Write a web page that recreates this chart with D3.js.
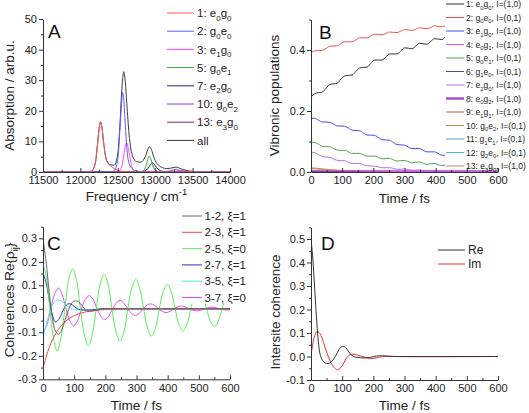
<!DOCTYPE html>
<html><head><meta charset="utf-8">
<script src="https://cdn.jsdelivr.net/npm/d3@7"></script>
<style>body{margin:0;background:#fff}svg{display:block}text{font-family:"Liberation Sans",Arial,sans-serif}</style>
</head><body><svg id="c" width="529" height="413"></svg>
<script>
// ---------- Panel A: absorption spectra ----------
const specFreq = [11500,12000,12100,12150,12200,12230,12250,12270,12290,12310,12350,12400,12450,12500,12530,12550,12565,12580,12600,12620,12650,12700,12750,12800,12850,12880,12900,12920,12940,12960,12980,13000,13050,13100,13150,13200,13250,13280,13310,13350,13400,13500,13700,14000];
const specE0G0 = [0,0,0.05,0.3,3.0,9.3,14.2,16.3,14.2,9.6,3.6,2.0,1.2,0.5,0.3,0.2,0.15,0.1,0.08,0.06,0.05,0.03,0.02,0,0,0,0,0,0,0,0,0,0,0,0,0,0,0,0,0,0,0,0,0];
const specG0E0 = [0,0,0,0,0,0,0,0,0,0,0,0,0.4,4.2,14.5,22.5,26.0,23.8,15.5,8.0,2.8,0.9,0.3,0.1,0,0,0,0,0,0,0,0,0,0,0,0,0,0,0,0,0,0,0,0];
const specE1G0 = [0,0,0,0,0,0,0,0,0,0,0,0,0,0.1,0.5,1.6,3.2,5.5,8.6,9.6,6.5,1.0,0.2,0.05,0,0,0,0,0,0,0,0,0,0,0,0,0,0,0,0,0,0,0,0];
const specG0E1 = [0,0,0,0,0,0,0,0,0,0,0,0,0,0,0,0,0,0,0,0,0,0,0,0.05,0.6,2.2,4.0,5.2,4.4,2.7,1.3,0.6,0.1,0,0,0,0,0,0,0,0,0,0,0];
const specE2G0 = [0,0,0,0,0,0,0,0,0,0,0,0,0,0,0,0,0,0,0,0,0,0,0,0,0.2,0.6,1.1,1.8,2.5,3.0,2.8,2.1,0.7,0.2,0.05,0,0,0,0,0,0,0,0,0];
const specG0E2 = [0,0,0,0,0,0,0,0,0,0,0,0,0,0,0,0,0,0,0,0,0,0,0,0,0,0,0,0,0,0,0,0,0,0.05,0.15,0.4,0.75,0.8,0.6,0.3,0.12,0.02,0,0];
const specE3G0 = [0,0,0,0,0,0,0,0,0,0,0,0,0,0,0,0,0,0,0,0,0,0,0,0,0,0,0,0,0,0,0,0,0,0,0,0,0.1,0.2,0.3,0.35,0.25,0.05,0,0];
const specAll  = [0,0,0.05,0.3,3.0,9.3,14.2,16.4,14.3,9.7,3.9,2.4,2.2,6.0,16.0,25.5,30.5,32.8,29.5,22.5,12.5,5.0,3.4,3.2,4.2,5.8,7.3,8.2,7.9,6.6,5.0,3.8,2.1,1.4,1.1,1.2,1.5,1.6,1.4,1.0,0.6,0.2,0.05,0];
const specNames = ["1: e_0g_0","2: g_0e_0","3: e_1g_0","5: g_0e_1","7: e_2g_0","10: g_0e_2","13: e_3g_0","all"];
const specColors = ["#ff5a5a","#5a5aff","#ff46ff","#38a838","#26267a","#8a3cf0","#7a2a6a","#3a3a3a"];
const specTicksX = [11500,12000,12500,13000,13500,14000];
const specMinorX = [11750,12250,12750,13250,13750];
const specTicksY = [0,10,20,30,40,50];
const specMinorY = [5,15,25,35,45];

// ---------- Panel B: vibronic populations ----------
const popT = [0,12,24,36,48,60,72,84,96,108,120,132,144,156,168,180,192,204,216,228,240,252,264,276,288,300,312,324,336,348,360,372,384,396,408,420,432,480,540,600];
const pop1 = [0.245,0.257,0.260,0.262,0.274,0.287,0.289,0.291,0.304,0.315,0.317,0.318,0.330,0.341,0.343,0.344,0.356,0.367,0.367,0.367,0.377,0.387,0.387,0.387,0.397,0.407,0.406,0.404,0.413,0.422,0.421,0.419,0.428,0.437,0.436,0.434,0.443,0.455,0.468,0.480];
const pop2 = [0.390,0.397,0.398,0.399,0.405,0.412,0.413,0.414,0.421,0.427,0.427,0.427,0.433,0.440,0.440,0.440,0.446,0.452,0.451,0.450,0.454,0.459,0.458,0.457,0.462,0.467,0.466,0.464,0.468,0.473,0.471,0.470,0.474,0.479,0.477,0.476,0.480,0.485,0.490,0.494];
const pop3 = [0.176,0.176,0.170,0.164,0.164,0.163,0.157,0.151,0.151,0.150,0.144,0.137,0.136,0.135,0.128,0.121,0.121,0.120,0.113,0.106,0.105,0.104,0.097,0.090,0.089,0.088,0.082,0.077,0.077,0.077,0.071,0.066,0.066,0.066,0.061,0.055,0.055,0.048,0.040,0.033];
const pop5 = [0.098,0.097,0.091,0.084,0.083,0.083,0.077,0.072,0.071,0.071,0.066,0.061,0.061,0.061,0.056,0.052,0.052,0.052,0.048,0.043,0.044,0.045,0.040,0.036,0.037,0.038,0.034,0.030,0.032,0.033,0.029,0.025,0.027,0.028,0.024,0.021,0.022,0.018,0.014,0.011];
const pop7 = [0.065,0.063,0.057,0.051,0.049,0.048,0.043,0.038,0.037,0.037,0.032,0.028,0.028,0.028,0.024,0.020,0.020,0.019,0.017,0.014,0.014,0.014,0.012,0.009,0.009,0.010,0.008,0.006,0.006,0.007,0.005,0.004,0.004,0.005,0.003,0.002,0.003,0.002,0.002,0.001];
const popTS = [0,50,100,150,200,250,300,400,500,600];
const pop4  = [0.006,0.005,0.004,0.003,0.0025,0.002,0.0015,0.001,0.0008,0.0006];
const pop6  = [0.003,0.0025,0.002,0.0015,0.001,0.001,0.0008,0.0005,0.0004,0.0003];
const pop8  = [0.002,0.002,0.002,0.002,0.002,0.002,0.002,0.002,0.002,0.002];
const pop9  = [0.002,0.0015,0.001,0.0008,0.0005,0.0004,0.0003,0.0002,0.0001,0];
const pop10 = [0.012,0.007,0.004,0.002,0.001,0.0005,0.0002,0,0,0];
const pop11 = [0.001,0.0008,0.0006,0.0004,0.0003,0.0002,0.0001,0,0,0];
const pop12 = [0.0005,0.0004,0.0003,0.0002,0.0001,0,0,0,0,0];
const pop13 = [0.014,0.009,0.005,0.003,0.0015,0.001,0.0005,0.0002,0,0];
const popNames = ["1: e_0g_0, I=(1,0)","2: g_0e_0, I=(0,1)","3: e_1g_0, I=(1,0)","4: e_0g_1, I=(1,0)","5: g_0e_1, I=(0,1)","6: g_1e_0, I=(0,1)","7: e_2g_0, I=(1,0)","8: e_0g_2, I=(1,0)","9: e_1g_1, I=(1,0)","10: g_0e_2, I=(0,1)","11: g_1e_1, I=(0,1)","12: g_2e_0, I=(0,1)","13: e_3g_0, I=(1,0)"];
const popColors = ["#333333","#f05050","#4848f0","#f050f0","#48a848","#50508a","#b070f0","#a050c8","#a06060","#a8a040","#5a9ad0","#50c0c0","#c09060"];
const popTicksX = [0,100,200,300,400,500,600];
const popMinorX = [50,150,250,350,450,550];
const popTicksY = [0,0.2,0.4];
const popMinorY = [0.1,0.3,0.5];

// ---------- Panel C: coherences ----------
const c12T = [0,10,20,30,40,50,60,70,80,90,100,110,120,130,140,150,165,180,200,230,260,600];
const c12  = [0.30,0.20,0.07,-0.04,-0.095,-0.108,-0.09,-0.05,-0.01,0.02,0.033,0.033,0.022,0.006,-0.006,-0.01,-0.008,-0.003,0.001,0.001,0,0];
const c23T = [0,10,20,30,40,50,60,70,80,90,100,120,140,160,180,200,250,300,600];
const c23  = [-0.255,-0.205,-0.165,-0.133,-0.107,-0.086,-0.069,-0.056,-0.045,-0.036,-0.029,-0.019,-0.012,-0.008,-0.005,-0.003,-0.001,0,0];
const c25T = [0,11,22,34,45,57,70,82,95,108,120,133,146,158,171,183,196,209,221,234,247,260,272,285,298,310,323,335,348,361,373,386,399,411,424,436,449,462,474,487,500,512,525,537,550,562,575,587,600];
const c25  = [0.19,0.134,0,-0.127,-0.18,-0.127,0,0.12,0.17,0.12,0,-0.111,-0.157,-0.111,0,0.104,0.147,0.104,0,-0.097,-0.137,-0.097,0,0.088,0.125,0.088,0,-0.081,-0.115,-0.081,0,0.074,0.104,0.074,0,-0.066,-0.094,-0.066,0,0.06,0.085,0.06,0,-0.053,-0.075,-0.053,0,0.047,0.066];
const c27T = [0,10,20,30,40,50,60,70,80,90,100,110,120,140,160,180,200,250,600];
const c27  = [0.153,0.11,0.04,-0.025,-0.056,-0.046,-0.02,0.008,0.021,0.02,0.01,0.001,-0.004,-0.006,-0.004,-0.001,0.001,0,0];
const c35T = [0,10,20,30,40,50,60,70,80,90,100,120,140,170,200,600];
const c35  = [-0.12,-0.07,-0.02,0.015,0.033,0.038,0.033,0.022,0.01,0.002,-0.003,-0.005,-0.004,-0.002,0,0];
const c37T = [0,12,25,37,49,61,74,86,98,111,123,136,148,161,173,186,198,210,223,235,247,259,272,284,296,308,321,333,345,358,370,383,395,407,420,432,444,456,469,481,493,505,518,530,542,554,567,579,591,600];
const c37  = [-0.10,-0.071,0,0.062,0.088,0.062,0,-0.051,-0.072,-0.051,0,0.04,0.056,0.04,0,-0.032,-0.045,-0.032,0,0.025,0.036,0.025,0,-0.02,-0.028,-0.02,0,0.015,0.021,0.015,0,-0.011,-0.016,-0.011,0,0.0085,0.012,0.0085,0,-0.0064,-0.009,-0.0064,0,0.005,0.007,0.005,0,-0.0035,-0.005,-0.004];
const cohNames = ["1-2, ξ=1","2-3, ξ=1","2-5, ξ=0","2-7, ξ=1","3-5, ξ=1","3-7, ξ=0"];
const cohColors = ["#666666","#f04848","#5aee5a","#3434c4","#48eef4","#ee48ee"];
const cohTicksY = [-0.3,-0.2,-0.1,0,0.1,0.2,0.3];
const cohMinorY = [-0.25,-0.15,-0.05,0.05,0.15,0.25,0.35];

// ---------- Panel D: intersite coherence ----------
const dReT = [0,5,10,15,20,25,30,40,50,60,70,80,90,100,110,120,130,140,150,170,190,210,230,250,280,600];
const dRe  = [0.50,0.43,0.33,0.22,0.12,0.045,0.005,-0.022,-0.03,-0.028,-0.015,0.005,0.03,0.043,0.04,0.022,0.006,-0.002,-0.004,-0.006,-0.004,0.002,0.003,0.001,0,0];
const dImT = [0,10,20,30,40,50,60,70,80,85,90,100,110,120,130,140,160,180,200,220,240,260,600];
const dIm  = [0,0.08,0.107,0.095,0.06,0.02,-0.015,-0.04,-0.054,-0.057,-0.054,-0.04,-0.015,0.003,0.01,0.009,0.002,-0.006,-0.008,-0.003,0.001,0,0];
const intNames = ["Re","Im"];
const intColors = ["#333333","#e83434"];
const intTicksY = [-0.1,0,0.1,0.2,0.3,0.4,0.5];
const intMinorY = [-0.05,0.05,0.15,0.25,0.35,0.45,0.55];

// ---------- drawing ----------
const svg = d3.select("#c");
const TICK_FS = 11, TITLE_FS = 13.5;

function rich(textSel, str, fs) {
  const segs = [];
  for (let i = 0; i < str.length; i++) {
    let c = str[i], mode = "n";
    if ((c === "_" || c === "^") && i + 1 < str.length) { mode = c === "_" ? "sub" : "sup"; c = str[++i]; }
    if (segs.length && segs[segs.length-1].mode === mode) segs[segs.length-1].t += c;
    else segs.push({t: c, mode});
  }
  let cur = 0;
  segs.forEach(s => {
    const target = s.mode === "sub" ? fs*0.3 : s.mode === "sup" ? -fs*0.42 : 0;
    const ts = textSel.append("tspan").text(s.t).attr("dy", target - cur);
    if (s.mode !== "n") ts.attr("font-size", fs*0.7);
    cur = target;
  });
}

function panel(p) {
  const g = svg.append("g");
  const x = d3.scaleLinear().domain(p.xDomain).range(p.xRange);
  const y = d3.scaleLinear().domain(p.yDomain).range(p.yRange);
  const clipId = "clip" + p.letter;
  g.append("clipPath").attr("id", clipId).append("rect")
    .attr("x", p.xRange[0]).attr("y", p.yRange[1]-2)
    .attr("width", p.xRange[1]-p.xRange[0]+2).attr("height", p.yRange[0]-p.yRange[1]+2);
  const lines = g.append("g").attr("clip-path", `url(#${clipId})`);
  p.series.slice().reverse().forEach(s => {
    const pts = s.x.map((v, i) => [v, s.y[i]]);
    lines.append("path").datum(pts)
      .attr("fill", "none").attr("stroke", s.color).attr("stroke-width", s.width || 1)
      .attr("stroke-linejoin", "round")
      .attr("d", d3.line().x(d => x(d[0])).y(d => y(d[1])).curve(s.curve || d3.curveMonotoneX));
  });
  if (p.box) g.append("rect").attr("x", p.box[0]).attr("y", p.box[1]).attr("width", p.box[2]).attr("height", p.box[3]).attr("fill", "#fff");
  const fmt = p.fmt;
  g.append("g").attr("transform", `translate(0,${p.yRange[0]})`)
    .call(d3.axisBottom(x).tickValues(p.xTicks).tickFormat(fmt.x).tickSize(-4).tickSizeOuter(0).tickPadding(4.5));
  g.append("g").attr("transform", `translate(0,${p.yRange[0]})`)
    .call(d3.axisBottom(x).tickValues(p.xMinor).tickFormat("").tickSize(-2).tickSizeOuter(0))
    .select(".domain").remove();
  g.append("g").attr("transform", `translate(${p.xRange[0]},0)`)
    .call(d3.axisLeft(y).tickValues(p.yTicks).tickFormat(fmt.y).tickSize(4).tickSizeOuter(0).tickPadding(2));
  g.append("g").attr("transform", `translate(${p.xRange[0]},0)`)
    .call(d3.axisLeft(y).tickValues(p.yMinor).tickFormat("").tickSize(2).tickSizeOuter(0))
    .select(".domain").remove();
  g.selectAll(".domain, .tick line").attr("stroke", "#333");
  g.selectAll(".tick text").attr("font-size", TICK_FS).attr("fill", "#222")
    .attr("font-family", "'Liberation Sans', Arial, sans-serif");
  const xt = g.append("text").attr("x", (p.xRange[0]+p.xRange[1])/2).attr("y", p.xTitleY)
    .attr("text-anchor", "middle").attr("font-size", TITLE_FS).attr("fill", "#222");
  rich(xt, p.xTitle, TITLE_FS);
  const yt = g.append("text").attr("transform", `translate(${p.yTitleX},${p.yTitleY}) rotate(-90)`)
    .attr("text-anchor", "middle").attr("font-size", TITLE_FS).attr("fill", "#222");
  rich(yt, p.yTitle, TITLE_FS);
  g.append("text").attr("x", p.letterPos[0]).attr("y", p.letterPos[1]).attr("font-size", 19).attr("fill", "#111").text(p.letter);
  const L = p.legend;
  p.series.forEach((s, i) => {
    const cy = L.y0 + i*L.dy;
    g.append("line").attr("x1", L.x0).attr("x2", L.x1).attr("y1", cy).attr("y2", cy)
      .attr("stroke", s.color).attr("stroke-width", s.width || 1);
    const t = g.append("text").attr("x", L.x1 + L.gap).attr("y", cy + L.fs*0.36)
      .attr("font-size", L.fs).attr("fill", "#222");
    rich(t, s.name, L.fs);
  });
}

const f1 = d => d.toFixed(1);

panel({
  letter: "A", letterPos: [48, 38],
  xDomain: [11500, 14000], yDomain: [0, 50], xRange: [43, 230], yRange: [172, 19],
  xTicks: specTicksX, xMinor: specMinorX, yTicks: specTicksY, yMinor: specMinorY,
  fmt: {x: d => String(d), y: d => String(d)},
  xTitle: "Frequency / cm^-^1", xTitleY: 201, yTitle: "Absorption / arb.u.", yTitleX: 14, yTitleY: 95.5,
  series: [specE0G0, specG0E0, specE1G0, specG0E1, specE2G0, specG0E2, specE3G0, specAll]
    .map((v, i) => ({x: specFreq, y: v, color: specColors[i], name: specNames[i]})),
  legend: {x0: 167, x1: 194, gap: 3, y0: 13, dy: 18.2, fs: 11.5}
});

const popVals = [pop1, pop2, pop3, pop4, pop5, pop6, pop7, pop8, pop9, pop10, pop11, pop12, pop13];
const popIsMain = [true, true, true, false, true, false, true, false, false, false, false, false, false];
panel({
  letter: "B", letterPos: [319, 39],
  xDomain: [0, 600], yDomain: [0, 0.5], xRange: [311, 498], yRange: [172, 19.5],
  xTicks: popTicksX, xMinor: popMinorX, yTicks: popTicksY, yMinor: popMinorY,
  fmt: {x: d => String(d), y: f1},
  xTitle: "Time / fs", xTitleY: 203, yTitle: "Vibronic populations", yTitleX: 279, yTitleY: 95.5,
  series: popVals.map((v, i) => ({x: popIsMain[i] ? popT : popTS, y: v, color: popColors[i], name: popNames[i], width: i === 7 ? 2.5 : 1})),
  legend: {x0: 446, x1: 464, gap: 2, y0: 4, dy: 13.5, fs: 8.5},
  box: [445, 0, 84, 168.5]
});

panel({
  letter: "C", letterPos: [47, 250],
  xDomain: [0, 600], yDomain: [-0.3, 0.35], xRange: [43, 230], yRange: [379.3, 226.6],
  xTicks: popTicksX, xMinor: popMinorX, yTicks: cohTicksY, yMinor: cohMinorY,
  fmt: {x: d => String(d), y: f1},
  xTitle: "Time / fs", xTitleY: 410, yTitle: "Coherences Re{ρ_i_j}", yTitleX: 14, yTitleY: 300,
  series: [[c12T, c12], [c23T, c23], [c25T, c25], [c27T, c27], [c35T, c35], [c37T, c37]]
    .map((d, i) => ({x: d[0], y: d[1], color: cohColors[i], name: cohNames[i], curve: d3.curveCatmullRom})),
  legend: {x0: 182, x1: 202, gap: 2.5, y0: 216, dy: 16.3, fs: 11.5},
  box: [179, 206, 86, 97.5]
});

panel({
  letter: "D", letterPos: [321, 250],
  xDomain: [0, 600], yDomain: [-0.1, 0.55], xRange: [311, 498], yRange: [380, 227.3],
  xTicks: popTicksX, xMinor: popMinorX, yTicks: intTicksY, yMinor: intMinorY,
  fmt: {x: d => String(d), y: f1},
  xTitle: "Time / fs", xTitleY: 410, yTitle: "Intersite coherence", yTitleX: 280, yTitleY: 312,
  series: [[dReT, dRe], [dImT, dIm]].map((d, i) => ({x: d[0], y: d[1], color: intColors[i], name: intNames[i], curve: d3.curveCatmullRom})),
  legend: {x0: 438, x1: 465, gap: 3, y0: 250, dy: 14, fs: 12}
});
</script></body></html>
